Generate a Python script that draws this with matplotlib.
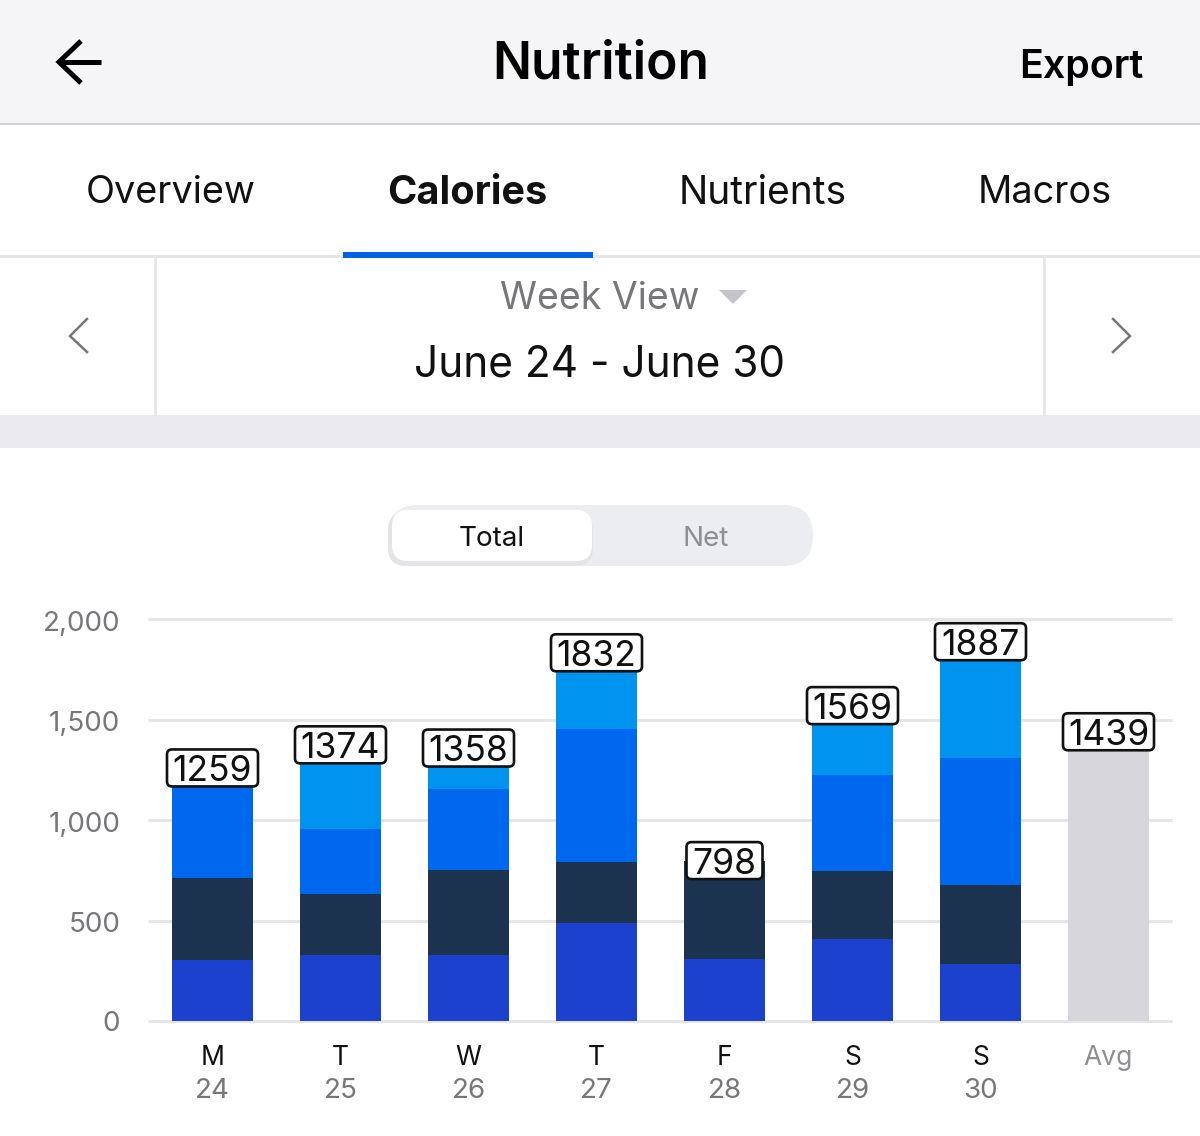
import matplotlib
matplotlib.use("Agg")
import matplotlib.pyplot as plt
from matplotlib.patches import FancyBboxPatch, Rectangle, Polygon
from matplotlib.transforms import IdentityTransform, ScaledTranslation, Affine2D

plt.rcParams['font.family'] = ['Inter', 'DejaVu Sans']

days = ['M', 'T', 'W', 'T', 'F', 'S', 'S', 'Avg']
dates = ['24', '25', '26', '27', '28', '29', '30', '']
breakfast = [303, 328, 328, 488, 308, 408, 284]
lunch = [408, 304, 423, 303, 490, 338, 393]
dinner = [548, 323, 403, 662, 0, 478, 631]
snacks = [0, 419, 204, 379, 0, 345, 579]
totals = [1259, 1374, 1358, 1832, 798, 1569, 1887]
avg_value = 1439
y_ticks = [0, 500, 1000, 1500, 2000]
y_tick_labels = ['0', '500', '1,000', '1,500', '2,000']
tabs = ['Overview', 'Nutrients', 'Macros']

W, H = 1200, 1136
fig = plt.figure(figsize=(W / 100, H / 100), dpi=100, facecolor='white')

# UI layer in pixel coordinates
ui = fig.add_axes([0, 0, 1, 1])
ui.set_xlim(0, W)
ui.set_ylim(H, 0)
ui.axis('off')

GREY_LINE = '#e6e6e8'
ui.add_patch(Rectangle((0, 0), W, 124, fc='#f5f5f7', ec='none'))
ui.plot([0, W], [124, 124], color='#c9c9cc', lw=1.2)
ui.plot([0, W], [256, 256], color=GREY_LINE, lw=2.2)
ui.add_patch(Rectangle((343, 252), 250, 6, fc='#0063e6', ec='none', zorder=3))
ui.plot([155, 155], [258, 415], color=GREY_LINE, lw=2)
ui.plot([1044, 1044], [258, 415], color=GREY_LINE, lw=2)
ui.add_patch(Rectangle((0, 415), W, 33, fc='#ebebef', ec='none'))

# back arrow
ui.plot([81, 59, 81], [41, 62, 83], color='black', lw=3.6, solid_joinstyle='miter', solid_capstyle='butt')
ui.plot([60, 101], [62, 62], color='black', lw=3.6, solid_capstyle='butt')
# chevrons
ui.plot([87, 70, 87], [319, 336, 352], color='#77777a', lw=1.8, solid_joinstyle='miter')
ui.plot([1113, 1130, 1113], [319, 336, 352], color='#77777a', lw=1.8, solid_joinstyle='miter')
# dropdown triangle
ui.add_patch(Polygon([[719, 290], [747, 290], [733, 304]], closed=True, fc='#c4c4c8', ec='none'))

ui.text(601, 65, 'Nutrition', ha='center', va='center', fontsize=37, fontweight='semibold', color='black')
ui.text(1081, 68, 'Export', ha='center', va='center', fontsize=28.4, fontweight='semibold', color='black')
ui.text(171, 193, tabs[0], ha='center', va='center', fontsize=27.3, color='#111111')
ui.text(467, 193, 'Calories', ha='center', va='center', fontsize=28.5, fontweight='bold', color='#111111')
ui.text(763, 193, tabs[1], ha='center', va='center', fontsize=28, color='#111111')
ui.text(1045, 193, tabs[2], ha='center', va='center', fontsize=27.3, color='#111111')
ui.text(600, 299, 'Week View', ha='center', va='center', fontsize=27, color='#77777b')
ui.text(600, 365, 'June 24 - June 30', ha='center', va='center', fontsize=30.5, color='#111111')

# toggle
track = FancyBboxPatch((388, 505), 425, 61, boxstyle='round,pad=0,rounding_size=30', fc='#ecedf0', ec='none')
ui.add_patch(track)
ui.add_patch(FancyBboxPatch((388, 512), 205, 54, boxstyle='round,pad=0,rounding_size=18', fc='#e3e4e7', ec='none'))
ui.add_patch(FancyBboxPatch((392, 510), 200, 51, boxstyle='round,pad=0,rounding_size=16', fc='white', ec='none'))
ui.text(492, 539, 'Total', ha='center', va='center', fontsize=20, color='#111111')
ui.text(706, 539, 'Net', ha='center', va='center', fontsize=20, color='#8e8e93')

# chart layer: x 148..1172 px, y 2000 at 619 px, 0 at 1021 px
ax = fig.add_axes([148 / W, 1 - 1021 / H, (1172 - 148) / W, (1021 - 619) / H], facecolor='none')
xs = list(range(7))
x_all = list(range(8))
bar_w = 81 / 128
series = [breakfast, lunch, dinner, snacks]
colors = ['#1c41cf', '#1b334e', '#0068ee', '#0093f0']
bottom = [0] * 7
for vals, c in zip(series, colors):
    ax.bar(xs, vals, bar_w, bottom=bottom, color=c, zorder=3)
    bottom = [b + v for b, v in zip(bottom, vals)]
ax.bar([7], [avg_value], bar_w, color='#d6d6db', zorder=3)

ax.set_xlim((148 - 212.5) / 128, (1172 - 212.5) / 128)
ax.set_ylim(0, 2000)
ax.set_yticks(y_ticks)
ax.set_yticklabels(y_tick_labels, fontsize=20, color='#77777b')
ax.yaxis.set_tick_params(length=0, pad=20)
ax.grid(axis='y', color=GREY_LINE, lw=2.2, zorder=0, solid_capstyle='butt')
for g in ax.get_ygridlines():
    g.set_clip_on(False)
for lab in ax.get_yticklabels()[1:]:
    lab.set_transform(lab.get_transform() + Affine2D().translate(0, -2))
ax.set_xticks(x_all)
ax.set_xticklabels(days, fontsize=19, color='#111111')
ax.get_xticklabels()[-1].set_color('#8e8e93')
ax.xaxis.set_tick_params(length=0, pad=17)
for s in ax.spines.values():
    s.set_visible(False)
for x, d in zip(x_all, dates):
    if d:
        ax.annotate(d, (x, 0), xytext=(0, -70), textcoords='offset pixels', ha='center', va='center',
                    fontsize=20, color='#77777b', annotation_clip=False)

# value tags: fixed pixel-size boxes anchored at each bar's top, narrower for 3 digits
for x, t in zip(x_all, totals + [avg_value]):
    half = 45.5 if t >= 1000 else 38
    anchor = IdentityTransform() + ScaledTranslation(x, t, ax.transData)
    ax.add_patch(FancyBboxPatch((-half, -18.5), 2 * half, 37, boxstyle='round,pad=0,rounding_size=5',
                                fc='white', ec='#111111', lw=1.9, transform=anchor, zorder=4))
    ax.text(x, t, str(t), ha='center', va='center_baseline', fontsize=25.5, color='#111111', zorder=5)

fig.savefig('out.png', dpi=100)
